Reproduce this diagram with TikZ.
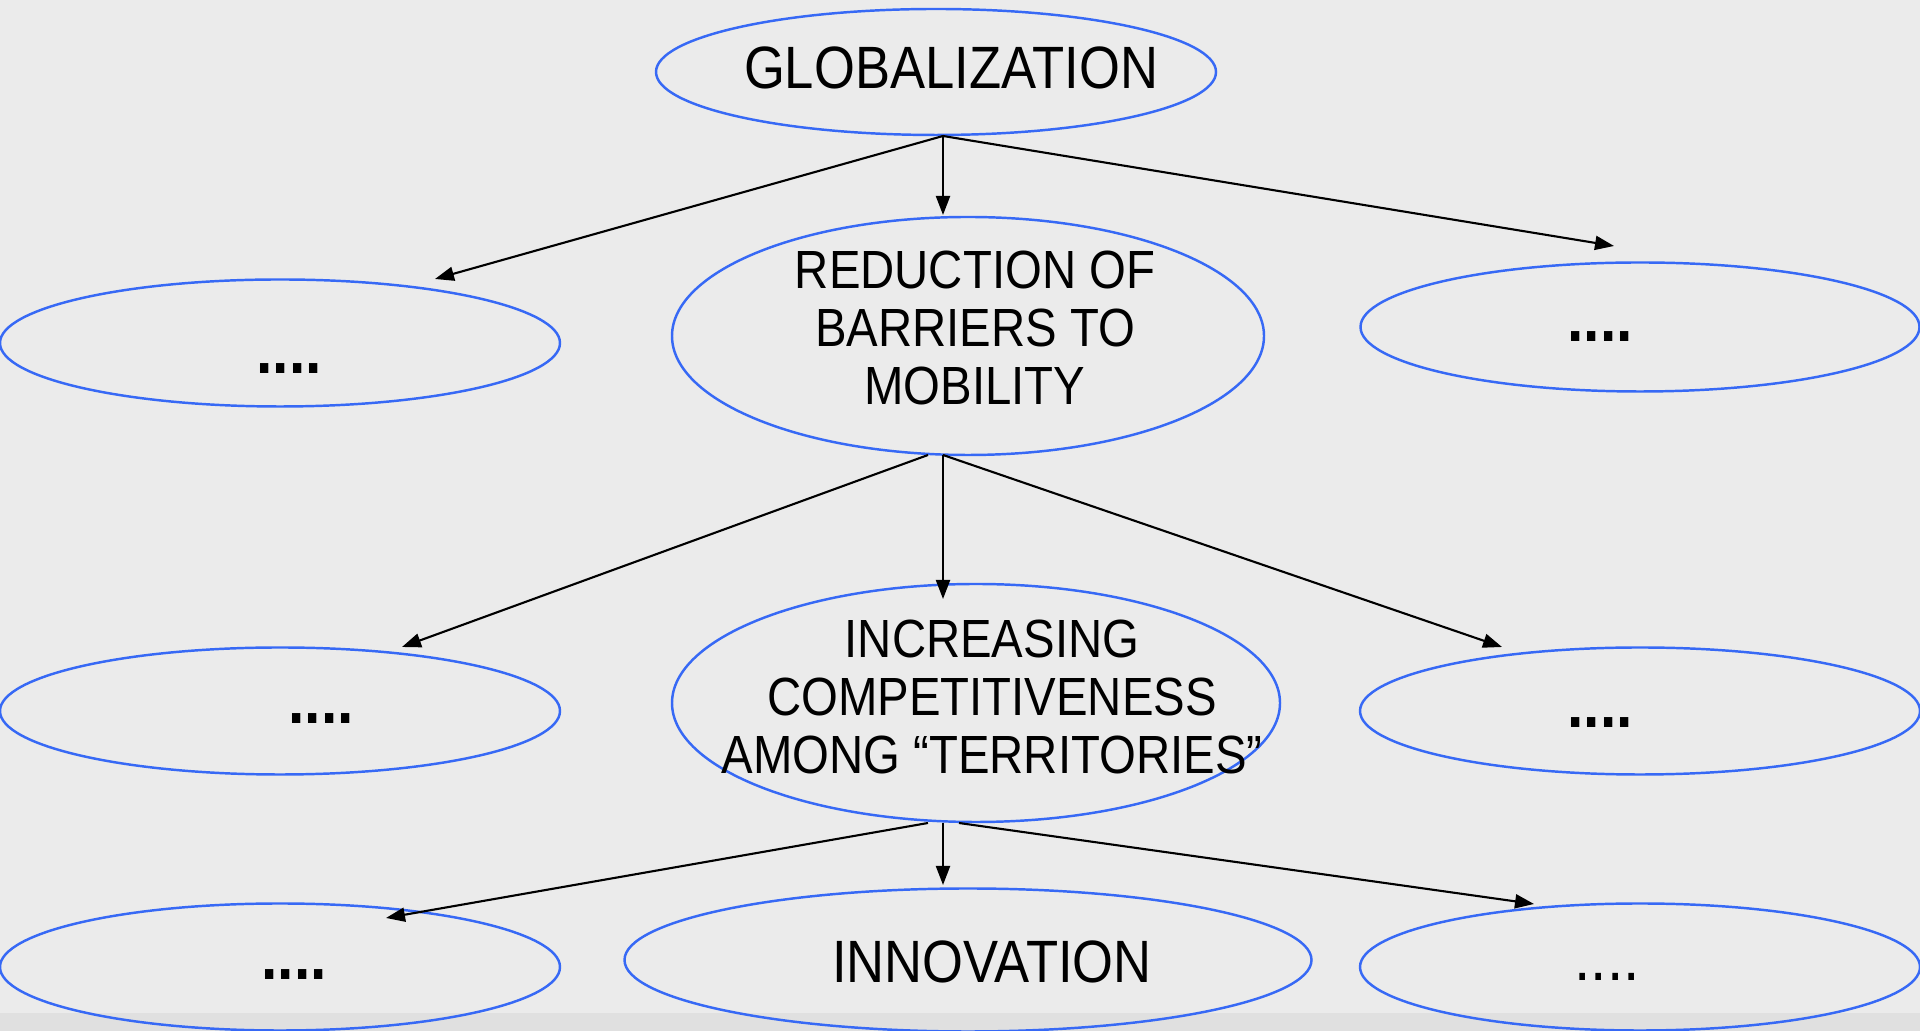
\documentclass[tikz,border=0pt]{standalone}
\usepackage{fontspec}
\setmainfont{Liberation Sans}[FakeStretch=0.88]
\usetikzlibrary{shapes.geometric,arrows.meta}
\definecolor{ovalblue}{RGB}{55,105,245}
\definecolor{bggray}{RGB}{235,235,235}
\definecolor{stripgray}{RGB}{224,224,224}
\begin{document}
\begin{tikzpicture}[x=1.0cm,y=1.0cm,
  oval/.style={ellipse,draw=ovalblue,line width=0.7pt,inner sep=0pt},
  big/.style={font=\fontsize{17}{19}\selectfont},
  multi/.style={align=center,font=\fontsize{15.3}{16.4}\selectfont},
  dots/.style={font=\fontsize{19}{20}\selectfont\bfseries},
  arr/.style={-{Triangle[length=0.19cm,width=0.14cm]},line width=0.6pt}]
\useasboundingbox (0,0) rectangle (19.2,10.31);
\fill[bggray] (0,0) rectangle (19.2,10.31);
\fill[stripgray] (0,0) rectangle (19.2,0.18);
% ovals
\node[oval,minimum width=5.60cm,minimum height=1.26cm] (glob) at (9.36,9.59) {};
\node[oval,minimum width=5.92cm,minimum height=2.38cm] (redu) at (9.68,6.95) {};
\node[oval,minimum width=5.60cm,minimum height=1.27cm] (left2) at (2.80,6.88) {};
\node[oval,minimum width=5.59cm,minimum height=1.29cm] (right2) at (16.40,7.04) {};
\node[oval,minimum width=6.08cm,minimum height=2.38cm] (comp) at (9.76,3.28) {};
\node[oval,minimum width=5.60cm,minimum height=1.27cm] (left3) at (2.80,3.20) {};
\node[oval,minimum width=5.60cm,minimum height=1.27cm] (right3) at (16.40,3.20) {};
\node[oval,minimum width=6.87cm,minimum height=1.43cm] (inno) at (9.68,0.71) {};
\node[oval,minimum width=5.60cm,minimum height=1.27cm] (left4) at (2.80,0.64) {};
\node[oval,minimum width=5.60cm,minimum height=1.27cm] (right4) at (16.40,0.64) {};
% texts
\node[big] (globtxt) at (9.51,9.63) {GLOBALIZATION};
\node[multi] (redutxt) at (9.75,7.03) {REDUCTION OF\\BARRIERS TO\\MOBILITY};
\node[dots] (left2txt) at (2.89,6.62) {....};
\node[dots] (right2txt) at (16.00,6.94) {....};
\node[multi] (comptxt) at (9.92,3.34) {INCREASING\\COMPETITIVENESS\\AMONG “TERRITORIES”};
\node[dots] (left3txt) at (3.21,3.12) {....};
\node[dots] (right3txt) at (16.00,3.08) {....};
\node[big] (innotxt) at (9.92,0.69) {INNOVATION};
\node[dots] (left4txt) at (2.94,0.56) {....};
\node[font=\fontsize{19}{20}\selectfont] (right4txt) at (16.07,0.54) {....};
% arrow ends
\coordinate (globout) at (9.43,8.95);
\coordinate (reduout) at (9.43,5.76);
\coordinate (reduoutl) at (9.28,5.76);
\coordinate (compout) at (9.43,2.08);
\coordinate (compoutl) at (9.28,2.08);
\coordinate (compoutr) at (9.59,2.08);
\coordinate (left2in) at (4.35,7.52);
\coordinate (reduin) at (9.43,8.16);
\coordinate (right2in) at (16.14,7.85);
\coordinate (left3in) at (4.02,3.84);
\coordinate (compin) at (9.43,4.32);
\coordinate (right3in) at (15.02,3.84);
\coordinate (left4in) at (3.86,1.13);
\coordinate (innoin) at (9.43,1.46);
\coordinate (right4in) at (15.34,1.27);
% arrows
\draw[arr] (globout) -- (left2in);
\draw[arr] (globout) -- (reduin);
\draw[arr] (globout) -- (right2in);
\draw[arr] (reduoutl) -- (left3in);
\draw[arr] (reduout) -- (compin);
\draw[arr] (reduout) -- (right3in);
\draw[arr] (compoutl) -- (left4in);
\draw[arr] (compout) -- (innoin);
\draw[arr] (compoutr) -- (right4in);
\end{tikzpicture}
\end{document}
